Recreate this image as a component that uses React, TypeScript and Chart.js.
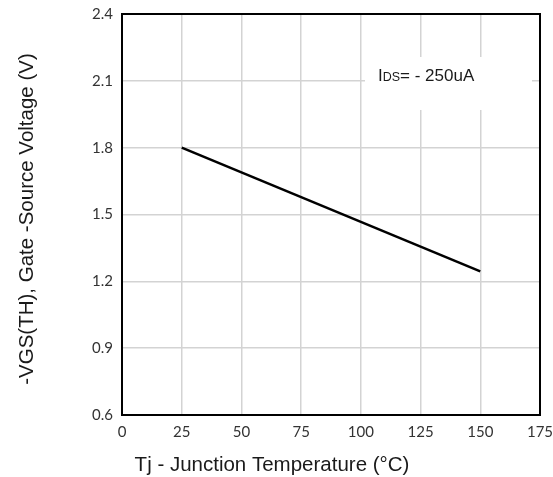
import React, { useEffect, useRef } from "react";
import { Chart, registerables } from "chart.js";

Chart.register(...registerables);

const temperatures = [25, 150];
const vgsth = [1.8, 1.245];
const xTicks = [0, 25, 50, 75, 100, 125, 150, 175];
const yTicks = [0.6, 0.9, 1.2, 1.5, 1.8, 2.1, 2.4];
const xTitle = "Tj - Junction Temperature (°C)";
const yTitle = "-VGS(TH), Gate -Source Voltage (V)";

const framePlugin = {
  id: "frame",
  afterDraw(chart: any) {
    const { ctx, chartArea: a } = chart;
    ctx.save();
    ctx.fillStyle = "#ffffff";
    ctx.fillRect(365, 57, 167, 53);
    ctx.fillStyle = "#1a1a1a";
    ctx.textBaseline = "alphabetic";
    ctx.textAlign = "left";
    let x = 378;
    const by = 81;
    ctx.font = "17px 'Liberation Sans', Arial, sans-serif";
    ctx.fillText("I", x, by);
    x += ctx.measureText("I").width;
    ctx.font = "12.5px 'Liberation Sans', Arial, sans-serif";
    ctx.fillText("DS", x, by);
    x += ctx.measureText("DS").width;
    ctx.font = "17px 'Liberation Sans', Arial, sans-serif";
    ctx.fillText("= - 250uA", x, by);
    // frame
    ctx.strokeStyle = "#000000";
    ctx.lineWidth = 2;
    ctx.strokeRect(a.left, a.top, a.right - a.left, a.bottom - a.top);
    // titles
    ctx.fillStyle = "#1a1a1a";
    ctx.font = "20.5px 'Liberation Sans', Arial, sans-serif";
    ctx.textAlign = "center";
    ctx.textBaseline = "middle";
    ctx.fillText(xTitle, 272, 465);
    ctx.translate(27, 219);
    ctx.rotate(-Math.PI / 2);
    ctx.fillText(yTitle, 0, 0);
    ctx.restore();
  },
};

export default function App() {
  const ref = useRef<HTMLCanvasElement>(null);
  useEffect(() => {
    document.body.style.margin = "0";
    const chart = new Chart(ref.current!, {
      type: "line",
      data: {
        datasets: [
          {
            data: temperatures.map((t, i) => ({ x: t, y: vgsth[i] })),
            borderColor: "#000000",
            borderWidth: 2.5,
            pointRadius: 0,
            tension: 0,
          },
        ],
      },
      options: {
        animation: false,
        responsive: false,
        devicePixelRatio: 1,
        layout: { padding: { left: 0, top: 14, right: 13, bottom: 0 } },
        plugins: { legend: { display: false }, tooltip: { enabled: false } },
        scales: {
          x: {
            type: "linear",
            min: 0,
            max: 175,
            afterBuildTicks: (s: any) => {
              s.ticks = xTicks.map((v) => ({ value: v }));
            },
            afterFit: (s: any) => {
              s.height = 62;
              s.paddingLeft = 0;
              s.paddingRight = 0;
            },
            grid: { color: "#d3d3d3", lineWidth: 1.5, drawTicks: false },
            border: { display: false },
            ticks: {
              padding: 8,
              color: "#333333",
              font: { family: "Lato, 'Open Sans', sans-serif", size: 15 },
              maxRotation: 0,
            },
          },
          y: {
            type: "linear",
            min: 0.6,
            max: 2.4,
            afterBuildTicks: (s: any) => {
              s.ticks = yTicks.map((v) => ({ value: v }));
            },
            afterFit: (s: any) => {
              s.width = 122;
              s.paddingTop = 0;
              s.paddingBottom = 0;
            },
            grid: { color: "#d3d3d3", lineWidth: 1.5, drawTicks: false },
            border: { display: false },
            ticks: {
              padding: 9,
              color: "#333333",
              font: { family: "Lato, 'Open Sans', sans-serif", size: 15 },
              callback: (v: any) => Number(v).toFixed(1),
            },
          },
        },
      },
      plugins: [framePlugin],
    });
    return () => chart.destroy();
  }, []);
  return (
    <div style={{ position: "fixed", left: 0, top: 0, width: 553, height: 477, background: "#fff" }}>
      <canvas ref={ref} width={553} height={477} />
    </div>
  );
}
